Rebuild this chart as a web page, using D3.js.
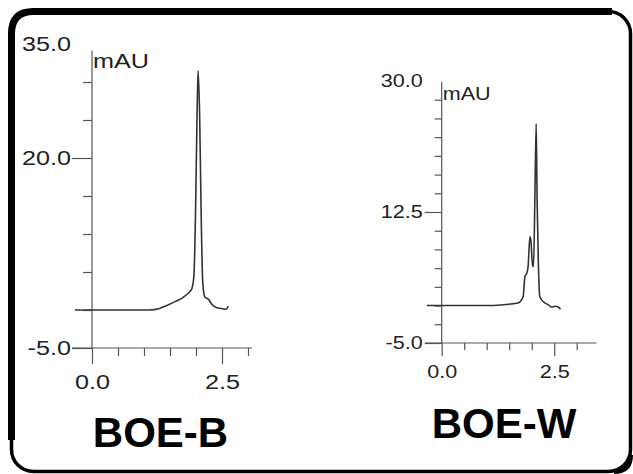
<!DOCTYPE html>
<html>
<head>
<meta charset="utf-8">
<script src="https://cdn.jsdelivr.net/npm/d3@7"></script>
<style>
  html, body { margin: 0; padding: 0; background: #fff; }
  svg { display: block; }
  text { font-family: "Liberation Sans", Arial, sans-serif; }
</style>
</head>
<body>
<div id="chart"></div>
<script>
var svgWidth = 633;
var svgHeight = 474;

// Chromatogram traces (retention time in min, absorbance in mAU).
var boeBTime = [-0.33, 1.10, 1.30, 1.44, 1.60, 1.76, 1.85, 1.92, 1.96, 1.99, 2.02, 2.04,
                2.07, 2.10, 2.13, 2.17, 2.24, 2.30, 2.37, 2.49, 2.58, 2.62];
var boeBAbs  = [0, 0, 0.2, 0.6, 1.1, 1.7, 2.2, 2.8, 4.5, 12.4, 25.6, 31.5,
                25.6, 12.4, 3.6, 1.7, 1.4, 0.8, 0.4, 0.2, 0.1, 0.5];

var boeWTime = [-0.33, 1.07, 1.52, 1.66, 1.74, 1.81, 1.85, 1.89, 1.92, 1.96, 1.98, 2.02,
                2.04, 2.07, 2.10, 2.12, 2.15, 2.18, 2.26, 2.37, 2.44, 2.52, 2.59, 2.64];
var boeWAbs  = [0, 0, 0.2, 0.3, 0.5, 1.2, 3.9, 4.3, 5.2, 9.2, 8.8, 5.4,
                5.2, 14.1, 24.3, 14.1, 5.2, 1.2, 0.5, 0.1, -0.2, -0.1, -0.2, -0.5];

// Tick values and labels.
var boeBMajorY = [-5, 20];
var boeBMinorY = [0, 5, 10, 15, 25, 30];
var boeBTopY = 35;
var boeWMajorY = [-5, 12.5];
var boeWMinorY = [-2.5, 0, 2.5, 5, 7.5, 10, 15, 17.5, 20, 22.5, 25, 27.5];
var boeWTopY = 30;
var majorX = [0, 2.5];
var minorX = [0.5, 1, 1.5, 2, 3];

var titles = ["BOE-B", "BOE-W"];

var svg = d3.select("#chart")
    .append("svg")
    .attr("width", svgWidth)
    .attr("height", svgHeight);

// Frame: thin rounded box, heavier along the top and left.
svg.append("rect")
    .attr("x", 11.5).attr("y", 11.5)
    .attr("width", 619).attr("height", 460)
    .attr("rx", 22)
    .attr("fill", "none")
    .attr("stroke", "#000")
    .attr("stroke-width", 3.5);

svg.append("path")
    .attr("d", "M11.5,440 L11.5,33.5 Q11.5,11.5 33.5,11.5 L612,11.5")
    .attr("fill", "none")
    .attr("stroke", "#000")
    .attr("stroke-width", 7);

svg.append("path")
    .attr("d", "M630.5,455 Q630.5,471.5 614,471.5")
    .attr("fill", "none")
    .attr("stroke", "#000")
    .attr("stroke-width", 5);

var panels = [
    {
        time: boeBTime, abs: boeBAbs,
        majorY: boeBMajorY, minorY: boeBMinorY, topY: boeBTopY,
        xRange: [92, 248], yDomain: [-5, 35], yRange: [348, 44],
        axisTop: 34.1, xLeft: -0.385, xRight: 3.08,
        fontSize: 21, sx: 1.2,
        majorLenY: 20, minorLenY: 9, majorLenX: 16, minorLenX: 8,
        padY: 1, padX: 10,
        title: titles[0], titleX: 160.5, titleY: 447,
        unitY: 68
    },
    {
        time: boeWTime, abs: boeWAbs,
        majorY: boeWMajorY, minorY: boeWMinorY, topY: boeWTopY,
        xRange: [441.7, 576.7], yDomain: [-5, 30], yRange: [343, 81],
        axisTop: 29.9, xLeft: -0.37, xRight: 3.44,
        fontSize: 18, sx: 1.2,
        majorLenY: 17, minorLenY: 7, majorLenX: 13, minorLenX: 7,
        padY: 2, padX: 9,
        title: titles[1], titleX: 504, titleY: 438,
        unitY: 100
    }
];

// Plain hyphen for negatives, one decimal.
function fmt(d) {
    return d.toFixed(1);
}

// Stretch axis labels sideways to match the original's wide digits.
function stretchLabels(g, sx) {
    g.selectAll("text").each(function() {
        var t = d3.select(this);
        t.attr("x", (+t.attr("x") || 0) / sx)
         .attr("transform", `scale(${sx},1)`);
    });
}

function styleAxis(g, p) {
    g.select(".domain").remove();
    g.selectAll("line").attr("stroke", "#555").attr("stroke-width", 1.2);
    g.selectAll("text")
        .attr("fill", "#222")
        .style("font-size", p.fontSize + "px")
        .style("font-family", "'Liberation Sans', Arial, sans-serif");
    stretchLabels(g, p.sx);
}

panels.forEach(function(p) {
    var x = d3.scaleLinear().domain([0, 3]).range(p.xRange);
    var y = d3.scaleLinear().domain(p.yDomain).range(p.yRange);

    var g = svg.append("g");

    // Axis lines.
    g.append("line")
        .attr("x1", x(0)).attr("x2", x(0))
        .attr("y1", y(p.axisTop)).attr("y2", y(p.yDomain[0]))
        .attr("stroke", "#555").attr("stroke-width", 1.2);
    g.append("line")
        .attr("x1", x(p.xLeft)).attr("x2", x(p.xRight))
        .attr("y1", y(p.yDomain[0])).attr("y2", y(p.yDomain[0]))
        .attr("stroke", "#555").attr("stroke-width", 1.2);

    // Y axis: minor ticks, labelled major ticks, top label without tick.
    g.append("g")
        .attr("transform", `translate(${x(0)},0)`)
        .call(d3.axisLeft(y).tickValues(p.minorY).tickSize(p.minorLenY).tickFormat(""))
        .call(styleAxis, p);
    g.append("g")
        .attr("transform", `translate(${x(0)},0)`)
        .call(d3.axisLeft(y).tickValues(p.majorY).tickSize(p.majorLenY)
            .tickPadding(p.padY).tickFormat(fmt))
        .call(styleAxis, p);
    g.append("g")
        .attr("transform", `translate(${x(0)},0)`)
        .call(d3.axisLeft(y).tickValues([p.topY]).tickSize(0)
            .tickPadding(p.majorLenY + p.padY).tickFormat(fmt))
        .call(styleAxis, p);

    // X axis.
    g.append("g")
        .attr("transform", `translate(0,${y(p.yDomain[0])})`)
        .call(d3.axisBottom(x).tickValues(minorX).tickSize(p.minorLenX).tickFormat(""))
        .call(styleAxis, p);
    g.append("g")
        .attr("transform", `translate(0,${y(p.yDomain[0])})`)
        .call(d3.axisBottom(x).tickValues(majorX).tickSize(p.majorLenX)
            .tickPadding(p.padX).tickFormat(fmt))
        .call(styleAxis, p);

    // Unit label.
    g.append("text")
        .attr("transform", `translate(${x(0) + 1},${p.unitY}) scale(${p.sx},1)`)
        .attr("fill", "#222")
        .style("font-size", p.fontSize + "px")
        .text("mAU");

    // Trace.
    var line = d3.line()
        .x(function(d, i) { return x(p.time[i]); })
        .y(function(d) { return y(d); })
        .curve(d3.curveMonotoneX);

    g.append("path")
        .datum(p.abs)
        .attr("d", line)
        .attr("fill", "none")
        .attr("stroke", "#333")
        .attr("stroke-width", 1.6)
        .attr("stroke-linejoin", "round");

    // Sample name.
    g.append("text")
        .attr("x", p.titleX)
        .attr("y", p.titleY)
        .attr("text-anchor", "middle")
        .attr("fill", "#000")
        .style("font-size", "42px")
        .style("font-weight", "bold")
        .text(p.title);
});
</script>
</body>
</html>
